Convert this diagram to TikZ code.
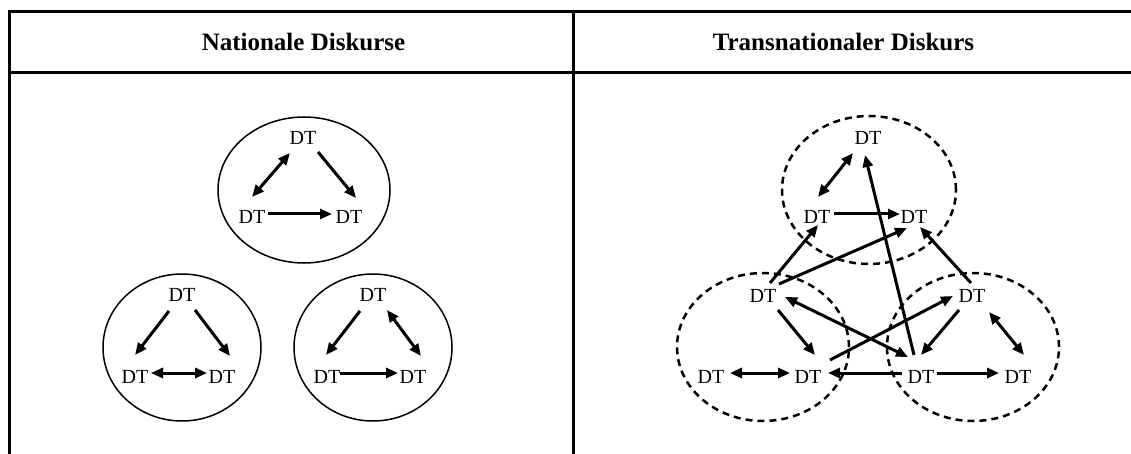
\documentclass[tikz,border=0pt]{standalone}
\usepackage{fontspec}
\setmainfont{Liberation Serif}
\usetikzlibrary{arrows.meta,shapes.geometric}
\begin{document}
\begin{tikzpicture}[x=1pt,y=-1pt,
 dt/.style={font=\fontsize{20}{24}\selectfont, inner sep=0pt},
 hdr/.style={font=\fontsize{25}{30}\selectfont\bfseries, inner sep=0pt, anchor=base},
 rule/.style={line width=3pt},
 nat/.style={draw, ellipse, line width=1.5pt, inner sep=0pt},
 trans/.style={draw, ellipse, line width=2.5pt, dash pattern=on 7pt off 5pt, inner sep=0pt},
 one/.style={line width=3pt, -{Triangle[length=12pt,width=10pt]}},
 two/.style={line width=3pt, {Triangle[length=12pt,width=10pt]}-{Triangle[length=12pt,width=10pt]}},
]
\useasboundingbox (0,0) rectangle (1131,454);
% table
\draw[rule] (9,454) -- (9,11.5) -- (1131,11.5);
\draw[rule] (7.5,73) -- (1131,73);
\draw[rule] (573,11.5) -- (573,454);
\node[hdr] (h1) at (303.5,51) {Nationale Diskurse};
\node[hdr] (h2) at (843.5,51) {Transnationaler Diskurs};

% left panel ellipses
\node[nat, minimum width=172pt, minimum height=146pt] (e1) at (304,190) {};
\node[nat, minimum width=158pt, minimum height=147pt] (e2) at (182,347.5) {};
\node[nat, minimum width=158pt, minimum height=147pt] (e3) at (373,347.5) {};

% left panel nodes
\node[dt] (A1) at (303,138) {DT};
\node[dt] (B1) at (252,217) {DT};
\node[dt] (C1) at (349,217) {DT};
\node[dt] (A2) at (182,295) {DT};
\node[dt] (B2) at (135,377) {DT};
\node[dt] (C2) at (222,377) {DT};
\node[dt] (A3) at (373,295) {DT};
\node[dt] (B3) at (327,377) {DT};
\node[dt] (C3) at (413,377) {DT};

\draw[two] ([shift={(-13,15)}]A1.center) -- ([shift={(0,-20)}]B1.center);
\draw[one] ([shift={(15,14)}]A1.center) -- ([shift={(7,-19)}]C1.center);
\draw[one] ([shift={(16,-3)}]B1.center) -- ([shift={(-17,-3)}]C1.center);

\draw[one] ([shift={(-13,16)}]A2.center) -- ([shift={(0,-22)}]B2.center);
\draw[one] ([shift={(13,15)}]A2.center) -- ([shift={(8,-21)}]C2.center);
\draw[two] ([shift={(16,-4)}]B2.center) -- ([shift={(-15,-4)}]C2.center);

\draw[one] ([shift={(-13,16)}]A3.center) -- ([shift={(-1,-22)}]B3.center);
\draw[two] ([shift={(14,15)}]A3.center) -- ([shift={(8,-21)}]C3.center);
\draw[one] ([shift={(13,-4)}]B3.center) -- ([shift={(-15,-4)}]C3.center);

% right panel ellipses
\node[trans, minimum width=174pt, minimum height=148pt] (e4) at (869,190) {};
\node[trans, minimum width=172pt, minimum height=148pt] (e5) at (763,347) {};
\node[trans, minimum width=172pt, minimum height=148pt] (e6) at (973,347) {};

% right panel nodes
\node[dt] (A4) at (868,138) {DT};
\node[dt] (B4) at (817,217) {DT};
\node[dt] (C4) at (914,217) {DT};
\node[dt] (A5) at (763,296) {DT};
\node[dt] (B5) at (711,377) {DT};
\node[dt] (C5) at (808,377) {DT};
\node[dt] (A6) at (972,296) {DT};
\node[dt] (B6) at (921,377) {DT};
\node[dt] (C6) at (1018,377) {DT};

% top group
\draw[two] ([shift={(-15,15)}]A4.center) -- ([shift={(1,-20)}]B4.center);
\draw[one] ([shift={(17,-3)}]B4.center) -- ([shift={(-14,-3)}]C4.center);
% links between groups
\draw[one] ([shift={(7,-13)}]A5.center) -- ([shift={(1,8)}]B4.center);
\draw[one] ([shift={(16,-12)}]A5.center) -- ([shift={(-7,11)}]C4.center);
\draw[one] ([shift={(-1,-13)}]A6.center) -- ([shift={(6,10)}]C4.center);
\draw[one] ([shift={(-7,-22)}]B6.center) -- ([shift={(-3,17)}]A4.center);
\draw[two] ([shift={(22,1)}]A5.center) -- ([shift={(-13,-20)}]B6.center);
\draw[one] ([shift={(22,-17)}]C5.center) -- ([shift={(-19,0)}]A6.center);
\draw[one] ([shift={(-19,-4)}]B6.center) -- ([shift={(20,-4)}]C5.center);
% bottom-left group
\draw[one] ([shift={(15,14)}]A5.center) -- ([shift={(7,-22)}]C5.center);
\draw[two] ([shift={(19,-4)}]B5.center) -- ([shift={(-18,-4)}]C5.center);
% bottom-right group
\draw[one] ([shift={(-13,14)}]A6.center) -- ([shift={(0,-22)}]B6.center);
\draw[two] ([shift={(17,16)}]A6.center) -- ([shift={(6,-22)}]C6.center);
\draw[one] ([shift={(16,-4)}]B6.center) -- ([shift={(-19,-4)}]C6.center);
\end{tikzpicture}
\end{document}
